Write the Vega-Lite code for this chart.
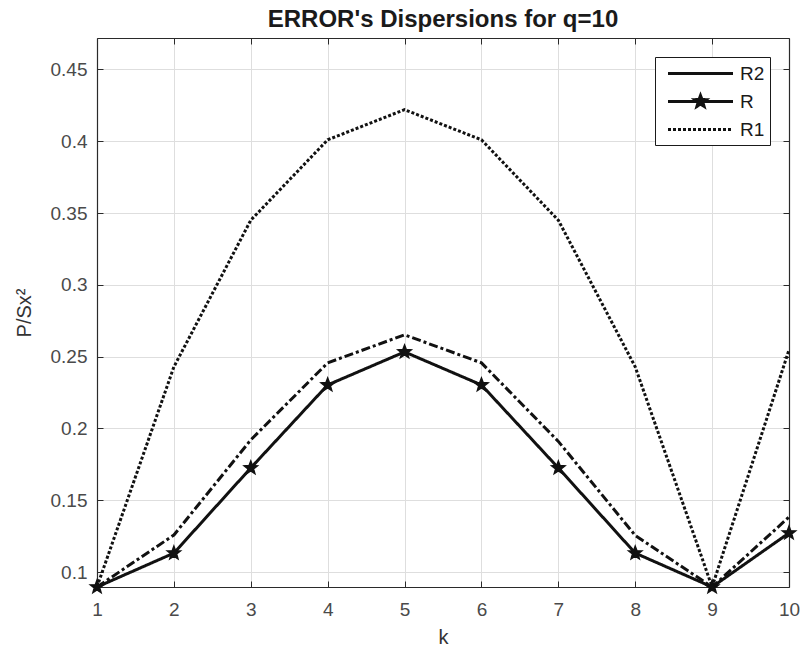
{
  "$schema": "https://vega.github.io/schema/vega-lite/v6.json",
  "autosize": "none",
  "width": 692,
  "height": 549,
  "padding": {"left": 97, "top": 38, "right": 17, "bottom": 66},
  "background": "white",
  "title": {
    "text": "ERROR's Dispersions for q=10",
    "fontSize": 24,
    "fontWeight": "bold",
    "font": "Liberation Sans",
    "color": "#1a1a1a",
    "anchor": "middle",
    "offset": 6
  },
  "config": {
    "view": {"stroke": null},
    "font": "Liberation Sans",
    "axis": {
      "labelFont": "Liberation Sans",
      "titleFont": "Liberation Sans",
      "labelFontSize": 19,
      "titleFontSize": 20,
      "titleFontWeight": "normal",
      "labelColor": "#4a4a4a",
      "titleColor": "#333333",
      "domainColor": "#2a2a2a",
      "domainWidth": 1.2,
      "tickColor": "#2a2a2a",
      "tickSize": -6,
      "tickWidth": 1,
      "gridColor": "#dedede",
      "gridWidth": 1
    },
    "legend": {
      "labelFont": "Liberation Sans",
      "labelFontSize": 19,
      "labelColor": "#1a1a1a"
    }
  },
  "data": {
    "values": [
      {"k": 1, "series": "R2", "v": 0.0896},
      {"k": 2, "series": "R2", "v": 0.1258},
      {"k": 3, "series": "R2", "v": 0.192},
      {"k": 4, "series": "R2", "v": 0.2457},
      {"k": 5, "series": "R2", "v": 0.2652},
      {"k": 6, "series": "R2", "v": 0.2457},
      {"k": 7, "series": "R2", "v": 0.191},
      {"k": 8, "series": "R2", "v": 0.1255},
      {"k": 9, "series": "R2", "v": 0.0896},
      {"k": 10, "series": "R2", "v": 0.1383},
      {"k": 1, "series": "R", "v": 0.0896},
      {"k": 2, "series": "R", "v": 0.1132},
      {"k": 3, "series": "R", "v": 0.1725},
      {"k": 4, "series": "R", "v": 0.2303},
      {"k": 5, "series": "R", "v": 0.2533},
      {"k": 6, "series": "R", "v": 0.2303},
      {"k": 7, "series": "R", "v": 0.1725},
      {"k": 8, "series": "R", "v": 0.1132},
      {"k": 9, "series": "R", "v": 0.0896},
      {"k": 10, "series": "R", "v": 0.1272},
      {"k": 1, "series": "R1", "v": 0.0896},
      {"k": 2, "series": "R1", "v": 0.2429},
      {"k": 3, "series": "R1", "v": 0.345},
      {"k": 4, "series": "R1", "v": 0.401},
      {"k": 5, "series": "R1", "v": 0.422},
      {"k": 6, "series": "R1", "v": 0.401},
      {"k": 7, "series": "R1", "v": 0.345},
      {"k": 8, "series": "R1", "v": 0.2429},
      {"k": 9, "series": "R1", "v": 0.0896},
      {"k": 10, "series": "R1", "v": 0.2547}
    ]
  },
  "encoding": {
    "x": {
      "field": "k",
      "type": "quantitative",
      "scale": {"domain": [1, 10], "nice": false, "zero": false}
    },
    "y": {
      "field": "v",
      "type": "quantitative",
      "scale": {"domain": [0.0896, 0.4719], "nice": false, "zero": false}
    }
  },
  "layer": [
    {
      "mark": {"type": "line", "strokeWidth": 3, "strokeCap": "butt", "strokeJoin": "miter"},
      "encoding": {
        "x": {
          "field": "k",
          "type": "quantitative",
          "axis": {
            "orient": "bottom",
            "title": "k",
            "values": [1, 2, 3, 4, 5, 6, 7, 8, 9, 10],
            "grid": true,
            "labelPadding": 19,
            "titlePadding": 8,
            "labelFlush": false
          }
        },
        "y": {
          "field": "v",
          "type": "quantitative",
          "axis": {
            "orient": "left",
            "title": "P/Sx²",
            "format": "~g",
            "values": [0.1, 0.15, 0.2, 0.25, 0.3, 0.35, 0.4, 0.45],
            "grid": true,
            "labelPadding": 16,
            "titlePadding": 16,
            "labelFlush": false
          }
        },
        "strokeDash": {
          "field": "series",
          "type": "nominal",
          "scale": {
            "domain": ["R1", "R", "R2"],
            "range": [[3, 2], [1, 0], [9, 3, 3, 3]]
          },
          "legend": null
        },
        "stroke": {
          "field": "series",
          "type": "nominal",
          "scale": {
            "domain": ["R2", "R", "R1"],
            "range": ["#111111", "#111111", "#111111"]
          },
          "legend": {
            "title": null,
            "orient": "none",
            "legendX": 558,
            "legendY": 19,
            "padding": 5,
            "strokeColor": "#1a1a1a",
            "fillColor": "white",
            "symbolSize": 400,
            "symbolStrokeWidth": 3,
            "symbolOffset": 29,
            "labelOffset": 28,
            "labelAlign": "left",
            "rowPadding": 5,
            "symbolType": {"expr": "datum.value === 'R' ? 'M-3.25,0L3.25,0M0,-0.6L0.148,-0.204L0.571,-0.185L0.239,0.078L0.353,0.485L0,0.252L-0.353,0.485L-0.239,0.078L-0.571,-0.185L-0.148,-0.204Z' : 'M-3.25,0L3.25,0'"},
            "symbolDash": {"expr": "datum.value === 'R1' ? [3, 2] : [1, 0]"}
          }
        }
      }
    },
    {
      "transform": [{"filter": "datum.series === 'R'"}],
      "mark": {
        "type": "point",
        "shape": "M0,-1L0.247,-0.34L0.951,-0.309L0.399,0.13L0.588,0.809L0,0.42L-0.588,0.809L-0.399,0.13L-0.951,-0.309L-0.247,-0.34Z",
        "size": 190,
        "filled": true,
        "color": "#111111",
        "stroke": "#111111",
        "strokeWidth": 1.5,
        "opacity": 1
      },
      "encoding": {
        "x": {
          "field": "k",
          "type": "quantitative",
          "axis": {
            "orient": "top",
            "title": null,
            "labels": false,
            "grid": false,
            "values": [1, 2, 3, 4, 5, 6, 7, 8, 9, 10]
          }
        },
        "y": {
          "field": "v",
          "type": "quantitative",
          "axis": {
            "orient": "right",
            "title": null,
            "labels": false,
            "grid": false,
            "values": [0.1, 0.15, 0.2, 0.25, 0.3, 0.35, 0.4, 0.45]
          }
        }
      }
    }
  ],
  "resolve": {"axis": {"x": "independent", "y": "independent"}}
}
